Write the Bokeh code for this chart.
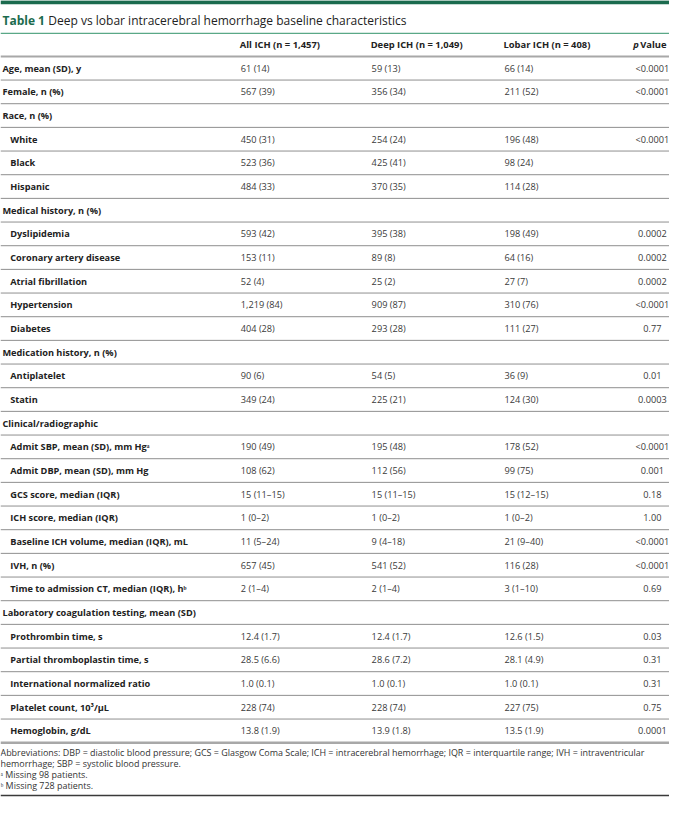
from bokeh.plotting import figure
from bokeh.models import Range1d, ColumnDataSource
from bokeh.core.properties import value
from bokeh.embed import file_html
from bokeh.resources import INLINE

# ---------------- data ----------------
title_bold = "Table 1"
title_rest = "Deep vs lobar intracerebral hemorrhage baseline characteristics"
col_headers = ["All ICH (n = 1,457)", "Deep ICH (n = 1,049)", "Lobar ICH (n = 408)"]

labels = [
    "Age, mean (SD), y", "Female, n (%)", "Race, n (%)", "White", "Black", "Hispanic",
    "Medical history, n (%)", "Dyslipidemia", "Coronary artery disease", "Atrial fibrillation",
    "Hypertension", "Diabetes", "Medication history, n (%)", "Antiplatelet", "Statin",
    "Clinical/radiographic", "Admit SBP, mean (SD), mm Hg\u1d43", "Admit DBP, mean (SD), mm Hg",
    "GCS score, median (IQR)", "ICH score, median (IQR)", "Baseline ICH volume, median (IQR), mL",
    "IVH, n (%)", "Time to admission CT, median (IQR), h\u1d47",
    "Laboratory coagulation testing, mean (SD)", "Prothrombin time, s",
    "Partial thromboplastin time, s", "International normalized ratio",
    "Platelet count, 10\u00b3/\u03bcL", "Hemoglobin, g/dL",
]
sub_item = [0, 0, 0, 1, 1, 1, 0, 1, 1, 1, 1, 1, 0, 1, 1, 0, 1, 1, 1, 1, 1, 1, 1, 0, 1, 1, 1, 1, 1]
all_ich = ["61 (14)", "567 (39)", "", "450 (31)", "523 (36)", "484 (33)", "", "593 (42)",
           "153 (11)", "52 (4)", "1,219 (84)", "404 (28)", "", "90 (6)", "349 (24)", "",
           "190 (49)", "108 (62)", "15 (11\u201315)", "1 (0\u20132)", "11 (5\u201324)", "657 (45)",
           "2 (1\u20134)", "", "12.4 (1.7)", "28.5 (6.6)", "1.0 (0.1)", "228 (74)", "13.8 (1.9)"]
deep_ich = ["59 (13)", "356 (34)", "", "254 (24)", "425 (41)", "370 (35)", "", "395 (38)",
            "89 (8)", "25 (2)", "909 (87)", "293 (28)", "", "54 (5)", "225 (21)", "",
            "195 (48)", "112 (56)", "15 (11\u201315)", "1 (0\u20132)", "9 (4\u201318)", "541 (52)",
            "2 (1\u20134)", "", "12.4 (1.7)", "28.6 (7.2)", "1.0 (0.1)", "228 (74)", "13.9 (1.8)"]
lobar_ich = ["66 (14)", "211 (52)", "", "196 (48)", "98 (24)", "114 (28)", "", "198 (49)",
             "64 (16)", "27 (7)", "310 (76)", "111 (27)", "", "36 (9)", "124 (30)", "",
             "178 (52)", "99 (75)", "15 (12\u201315)", "1 (0\u20132)", "21 (9\u201340)", "116 (28)",
             "3 (1\u201310)", "", "12.6 (1.5)", "28.1 (4.9)", "1.0 (0.1)", "227 (75)", "13.5 (1.9)"]
p_values = ["<0.0001", "<0.0001", "", "<0.0001", "", "", "", "0.0002", "0.0002", "0.0002",
            "<0.0001", "0.77", "", "0.01", "0.0003", "", "<0.0001", "0.001", "0.18", "1.00",
            "<0.0001", "<0.0001", "0.69", "", "0.03", "0.31", "0.31", "0.75", "0.0001"]
footnotes = [
    "Abbreviations: DBP = diastolic blood pressure; GCS = Glasgow Coma Scale; ICH = intracerebral hemorrhage; IQR = interquartile range; IVH = intraventricular",
    "hemorrhage; SBP = systolic blood pressure.",
    "\u1d43 Missing 98 patients.",
    "\u1d47 Missing 728 patients.",
]

# ---------------- layout ----------------
W, H = 685, 815
FONT = "Open Sans"
GREEN = "#1b6b4e"
p = figure(width=669, height=799, x_range=Range1d(0, W), y_range=Range1d(H, 0),
           output_backend="svg", toolbar_location=None, min_border=0)
p.axis.visible = False
p.grid.visible = False
p.outline_line_color = None
p.background_fill_color = "white"
p.border_fill_color = "white"

def txt(x, y, t, size="9px", style="normal", color="#333333", align="left"):
    p.text(x=[x], y=[y], text=[t], text_font=value(FONT), text_font_size=size,
           text_font_style=style, text_color=color, text_align=align, text_baseline="middle")

# top bar + title
p.rect(x=[W / 2], y=[1.8], width=W, height=4, fill_color=GREEN, line_color=None)
txt(2, 20.5, title_bold, size="12px", style="bold", color=GREEN)
txt(49, 20.5, title_rest, size="12px", color="#222222")
p.segment(x0=[0], y0=[33.5], x1=[W], y1=[33.5], line_color="#5aa887", line_width=1.3)

# header
col_x = [245, 379, 515]
for x, h in zip(col_x, col_headers):
    txt(x, 44.5, h, size="9.4px", style="bold", color="#222222")
txt(648, 44.5, "p", size="9.4px", style="bold italic", color="#222222")
txt(655, 44.5, "Value", size="9.4px", style="bold", color="#222222")

top = 57.0
pitch = 24.14
p.segment(x0=[0], y0=[top], x1=[W], y1=[top], line_color="#a8a8a8", line_width=2)

n = len(labels)
yc = [top + (i + 0.5) * pitch for i in range(n)]
lab_x = [10 if s else 2 for s in sub_item]
src = ColumnDataSource(dict(x=lab_x, y=yc, t=labels))
p.text(x="x", y="y", text="t", source=src, text_font=value(FONT), text_font_size="9.2px",
       text_font_style="bold", text_color="#222222", text_baseline="middle")
for x, col in zip(col_x, [all_ich, deep_ich, lobar_ich]):
    s = ColumnDataSource(dict(x=[x + 1] * n, y=yc, t=col))
    p.text(x="x", y="y", text="t", source=s, text_font=value(FONT), text_font_size="9.2px",
           text_color="#3a3a3a", text_baseline="middle")
s = ColumnDataSource(dict(x=[667.5] * n, y=yc, t=p_values))
p.text(x="x", y="y", text="t", source=s, text_font=value(FONT), text_font_size="9.2px",
       text_color="#3a3a3a", text_baseline="middle", text_align="center")

ys = [top + (i + 1) * pitch for i in range(n - 1)]
p.segment(x0=[0] * len(ys), y0=ys, x1=[W] * len(ys), y1=ys, line_color="#8f8f8f", line_width=1)
yb = top + n * pitch
p.segment(x0=[0], y0=[yb], x1=[W], y1=[yb], line_color="#a8a8a8", line_width=2.5)

# footnotes
for i, f in enumerate(footnotes):
    txt(0, yb + 10 + i * 11.2, f, size="8.95px", color="#333333")
p.segment(x0=[0], y0=[811], x1=[W], y1=[811], line_color="#3a3a3a", line_width=1.5)

open("out.html", "w").write(file_html(p, INLINE))
